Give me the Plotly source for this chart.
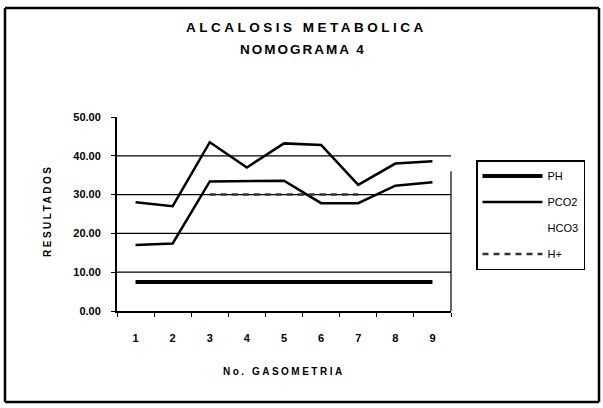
import plotly.graph_objects as go

# ---- data ----
categories = ["1", "2", "3", "4", "5", "6", "7", "8", "9"]
ph_values = [7.5, 7.5, 7.5, 7.5, 7.5, 7.5, 7.5, 7.5, 7.5]
pco2_values = [28, 27, 43.5, 37, 43.2, 42.8, 32.5, 38, 38.6]
hco3_values = [17, 17.4, 33.4, 33.5, 33.6, 27.8, 27.8, 32.3, 33.2]
h_values = [None, None, 30, 30, 30, 30, 30, None, None]
y_ticks = [0, 10, 20, 30, 40, 50]
grid_values = [10, 20, 30, 40]

title_line1 = "ALCALOSIS METABOLICA"
title_line2 = "NOMOGRAMA 4"
x_title = "No. GASOMETRIA"
y_title = "RESULTADOS"

W, H = 603, 408
L, R, T, B = 117, 152, 117, 97
PW, PH_ = W - L - R, H - T - B


def px(x):
    return (x - L) / PW


def py(y):
    return (H - B - y) / PH_


FONT = "Liberation Sans, Arial, sans-serif"

fig = go.Figure()
fig.add_trace(go.Scatter(x=categories, y=ph_values, name="PH", mode="lines",
                         line=dict(color="black", width=4), legendgroup="a"))
fig.add_trace(go.Scatter(x=categories, y=pco2_values, name="PCO2", mode="lines",
                         line=dict(color="black", width=2.5), legendgroup="b"))
fig.add_trace(go.Scatter(x=categories, y=hco3_values, name="HCO3", mode="lines",
                         line=dict(color="black", width=2.5), showlegend=False))
# legend entry for HCO3 (its sample did not reproduce in the original)
fig.add_trace(go.Scatter(x=[categories[0]], y=[None], name="HCO3", mode="lines",
                         line=dict(color="rgba(0,0,0,0)", width=2), legendgroup="c"))
fig.add_trace(go.Scatter(x=categories, y=h_values, name="H+", mode="lines",
                         line=dict(color="#333", width=2.5, dash="6px,5px"), legendgroup="d"))

shapes = []
for g in grid_values:
    shapes.append(dict(type="line", xref="paper", yref="y", x0=0, x1=1, y0=g, y1=g,
                       line=dict(color="black", width=1.2), layer="below"))
# right border of plot area
shapes.append(dict(type="line", xref="paper", yref="y", x0=1, x1=1, y0=0, y1=36,
                   line=dict(color="black", width=1.2)))
# outer chart border, drawn as four separate sides
bx0, bx1, by_top, by_bot = px(5), px(599), py(8), py(402)
border = dict(color="black", width=2.5)
for (xa, ya, xb, yb) in [(bx0, by_top, bx1, by_top), (bx0, by_bot, bx1, by_bot),
                         (bx0, by_top, bx0, by_bot), (bx1, by_top, bx1, by_bot)]:
    shapes.append(dict(type="line", xref="paper", yref="paper",
                       x0=xa, y0=ya, x1=xb, y1=yb, line=border))

annotations = [
    dict(text="<b><span style='letter-spacing:3.5px'>%s</span></b>" % title_line1,
         xref="paper", yref="paper", x=px(306), y=py(27), showarrow=False,
         xanchor="center", yanchor="middle", font=dict(family=FONT, size=13.5, color="black")),
    dict(text="<b><span style='letter-spacing:2px'>%s</span></b>" % title_line2,
         xref="paper", yref="paper", x=px(303), y=py(50), showarrow=False,
         xanchor="center", yanchor="middle", font=dict(family=FONT, size=13.5, color="black")),
    dict(text="<b><span style='letter-spacing:2.5px'>%s</span></b>" % y_title,
         xref="paper", yref="paper", x=px(47), y=py(211), showarrow=False, textangle=-90,
         xanchor="center", yanchor="middle", font=dict(family=FONT, size=10, color="black")),
    dict(text="<b><span style='letter-spacing:2.5px'>%s</span></b>" % x_title,
         xref="paper", yref="paper", x=px(284), y=py(371), showarrow=False,
         xanchor="center", yanchor="middle", font=dict(family=FONT, size=10, color="black")),
]

fig.update_layout(
    width=W, height=H,
    margin=dict(l=L, r=R, t=T, b=B, autoexpand=False),
    paper_bgcolor="white", plot_bgcolor="white",
    showlegend=True,
    legend=dict(x=px(476), y=py(160), xanchor="left", yanchor="top",
                bordercolor="black", borderwidth=1.5, bgcolor="white",
                font=dict(family=FONT, size=11, color="black"),
                tracegroupgap=7, itemwidth=60),
    shapes=shapes,
    annotations=annotations,
    font=dict(family=FONT, color="black"),
)
fig.update_xaxes(type="category", categoryorder="array", categoryarray=categories,
                 range=[-0.5, len(categories) - 0.5],
                 showgrid=False, showline=True, linecolor="black", linewidth=2,
                 ticks="outside", ticklen=4, tickcolor="black", tickson="boundaries",
                 tickfont=dict(family=FONT, size=11, color="black", weight="bold"),
                 ticklabelstandoff=16, zeroline=False)
fig.update_yaxes(range=[0, 50], tickvals=y_ticks, tickformat=".2f",
                 showgrid=False, showline=True, linecolor="black", linewidth=2,
                 ticks="outside", ticklen=4, tickcolor="black",
                 tickfont=dict(family=FONT, size=11, color="black", weight="bold"),
                 ticklabelstandoff=8, zeroline=False)

fig.write_html("out.html", config={"displayModeBar": False},
               post_script="document.body.style.margin='0px';document.body.style.overflow='hidden';")
